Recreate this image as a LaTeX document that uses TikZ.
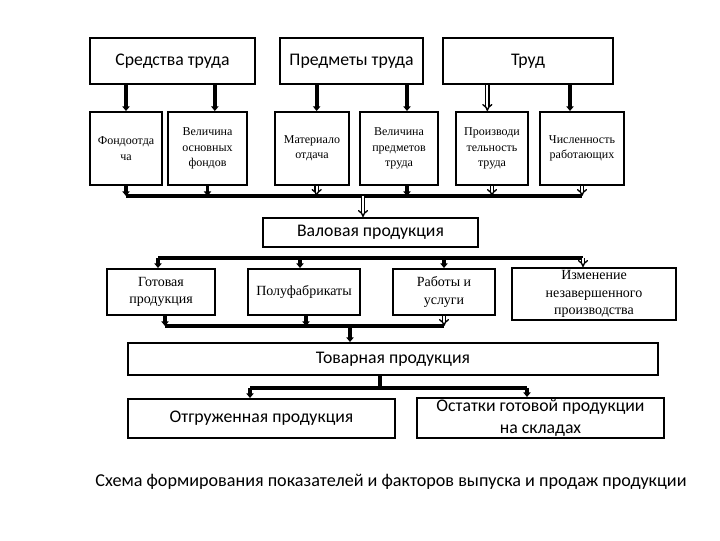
\documentclass[tikz,border=0pt]{standalone}
\usepackage{fontspec}
\setmainfont{Liberation Serif}
\setsansfont{Carlito}
\usetikzlibrary{arrows.meta}

\begin{document}
\begin{tikzpicture}[
  x=0.75pt, y=-0.75pt,
  >={Triangle[length=3.5pt,width=5.5pt]},
  box/.style={draw, line width=1.5pt, inner sep=1pt, align=center},
  bigbox/.style={box, font=\sffamily\fontsize{13.3}{16}\selectfont},
  smallbox/.style={box, minimum height=54.75pt, font=\fontsize{9}{11.5}\selectfont},
  midbox/.style={box, font=\fontsize{10.5}{13}\selectfont},
  bus/.style={line width=2.8pt},
  arr/.style={bus, ->},
  darr/.style={double, double distance=1.5pt, line width=1pt, -{Implies}}
]
  \useasboundingbox (0,0) rectangle (720,540);

  % top row
  \node[bigbox, minimum width=123.75pt, minimum height=34.5pt] (sr) at (172.5,61) {Средства труда};
  \node[bigbox, minimum width=107.25pt, minimum height=34.5pt] (pt) at (351.5,61) {Предметы труда};
  \node[bigbox, minimum width=127.5pt, minimum height=34.5pt] (tr) at (528,61) {Труд};

  % factors
  \node[smallbox, minimum width=54pt] (fo) at (126,148.5) {Фондоотда\\ча};
  \node[smallbox, minimum width=59.25pt] (vof) at (207.5,148.5) {Величина\\основных\\фондов};
  \node[smallbox, minimum width=55.5pt] (mo) at (312,148.5) {Материало\\отдача};
  \node[smallbox, minimum width=58.5pt] (vpt) at (399,148.5) {Величина\\предметов\\труда};
  \node[smallbox, minimum width=54pt] (prt) at (492,148.5) {Производи\\тельность\\труда};
  \node[smallbox, minimum width=63pt] (chr) at (582,148.5) {Численность\\работающих};

  \draw[arr] (sr.south -| fo.north) -- (fo.north);
  \draw[arr] ([xshift=5.5pt]sr.south -| vof.north) -- ([xshift=5.5pt]vof.north);
  \draw[arr] ([xshift=3.5pt]pt.south -| mo.north) -- ([xshift=3.5pt]mo.north);
  \draw[arr] ([xshift=6pt]pt.south -| vpt.north) -- ([xshift=6pt]vpt.north);
  \draw[darr] ([xshift=-3.5pt]tr.south -| prt.north) -- ([xshift=-3.5pt]prt.north);
  \draw[arr] ([xshift=-9pt]tr.south -| chr.north) -- ([xshift=-9pt]chr.north);

  % gross output
  \node[bigbox, minimum width=161.25pt, minimum height=21.75pt] (val) at (370.5,232.5) {Валовая продукция};
  \coordinate (b1) at (363,196);
  \draw[bus] (fo.south |- b1) -- (chr.south |- b1);
  \draw[arr] (fo.south) -- (fo.south |- b1);
  \draw[arr] (vof.south) -- (vof.south |- b1);
  \draw[darr] ([xshift=3.5pt]mo.south) -- ([xshift=3.5pt]mo.south |- b1);
  \draw[arr] ([xshift=6pt]vpt.south) -- ([xshift=6pt]vpt.south |- b1);
  \draw[darr] (prt.south) -- (prt.south |- b1);
  \draw[darr] (chr.south) -- (chr.south |- b1);
  \draw[darr] (b1) -- (b1 |- val.north);

  % parts of gross output
  \node[midbox, minimum width=81pt, minimum height=34.5pt] (gp) at (161,292) {Готовая\\продукция};
  \node[midbox, minimum width=84pt, minimum height=34.5pt] (pf) at (304,292) {Полуфабрикаты};
  \node[midbox, minimum width=76.5pt, minimum height=34.5pt] (ru) at (444,292) {Работы и\\услуги};
  \node[midbox, minimum width=123pt, minimum height=39pt] (inp) at (594,294) {Изменение\\незавершенного\\производства};

  \coordinate (b2l) at (158,258);
  \coordinate (b2r) at (583,258);
  \draw[bus] (b2l) -- (b2r);
  \draw[arr] (b2l) -- (b2l |- gp.north);
  \draw[arr] ([xshift=-3pt]pf.north |- b2l) -- ([xshift=-3pt]pf.north);
  \draw[arr] (ru.north |- b2l) -- (ru.north);
  \draw[darr] (b2r) -- (b2r |- inp.north);

  % marketable output
  \node[bigbox, minimum width=397.5pt, minimum height=24pt] (tov) at (393,359) {Товарная продукция};
  \coordinate (b3) at (350,326);
  \draw[bus] ([xshift=3pt]gp.south |- b3) -- (ru.south |- b3);
  \draw[arr] ([xshift=3pt]gp.south) -- ([xshift=3pt]gp.south |- b3);
  \draw[arr] ([xshift=1.5pt]pf.south) -- ([xshift=1.5pt]pf.south |- b3);
  \draw[darr] (ru.south) -- (ru.south |- b3);
  \draw[arr] (b3) -- (b3 |- tov.north);

  % sold and stock
  \node[bigbox, minimum width=200.25pt, minimum height=29.25pt] (otg) at (261.5,418.5) {Отгруженная продукция};
  \node[bigbox, minimum width=185.25pt, minimum height=30pt] (ost) at (540.5,418) {Остатки готовой продукции\\на складах};
  \coordinate (b4) at (380,388);
  \coordinate (b4l) at (250,388);
  \coordinate (b4r) at (527,388);
  \draw[bus] (b4 |- tov.south) -- (b4);
  \draw[bus] (b4l) -- (b4r);
  \draw[arr] (b4l) -- (b4l |- otg.north);
  \draw[arr] (b4r) -- (b4r |- ost.north);

  \node[font=\sffamily\fontsize{13.6}{16}\selectfont] (cap) at (391,482)
    {Схема формирования показателей и факторов выпуска и продаж продукции};
\end{tikzpicture}
\end{document}
